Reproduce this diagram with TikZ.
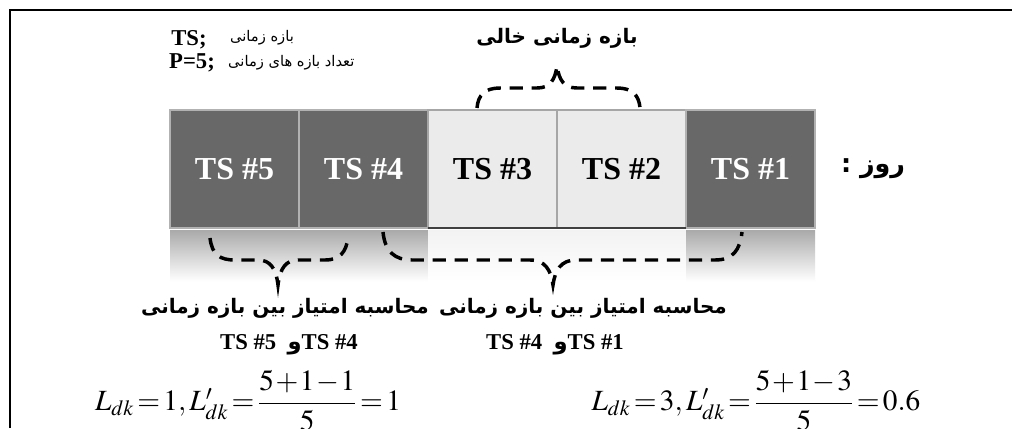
\documentclass[tikz,border=0pt]{standalone}
\usepackage{amsmath}
\usepackage{mathptmx}
\usepackage[no-math]{fontspec}
\setmainfont{Liberation Serif}
\newfontfamily\fa[Script=Arabic]{DejaVu Sans}
\TeXXeTstate=1
\usepackage{xcolor}
\usepackage{tikz}
\usetikzlibrary{positioning}

\definecolor{slotdark}{RGB}{104,104,104}
\definecolor{slotlight}{RGB}{235,235,235}
\newcommand{\tightmath}{\medmuskip=1mu\relax\thickmuskip=2mu\relax}

\begin{document}
\begin{tikzpicture}[
    x=0.75pt, y=-0.75pt,
    node distance=0pt,
    slot/.style={rectangle, draw=gray!60, line width=0.8pt, fill=slotdark, text=white, minimum width=96.75pt, minimum height=88.5pt, inner sep=0pt, outer sep=0pt, font=\fontsize{24}{28}\selectfont\bfseries},
    freeslot/.style={slot, fill=slotlight, text=black, draw=gray!70},
    dashbrace/.style={line width=2.6pt, dash pattern=on 10pt off 6.5pt},
    fatitle/.style={font=\fa\bfseries\fontsize{15}{18}\selectfont},
    fanote/.style={font=\fa\fontsize{11}{13}\selectfont},
    latnote/.style={font=\bfseries\fontsize{17}{20}\selectfont},
    pairtext/.style={font=\bfseries\fontsize{17}{20}\selectfont},
    formula/.style={font=\fontsize{22}{26}\selectfont}
]

% page and frame
\fill[white] (0,0) rectangle (1016,428);
\useasboundingbox (0,0) rectangle (1016,428);
\draw[line width=2.2pt] (10,428) -- (10,10) -- (1012,10);

% legend
\node[latnote] (tsdef) at (189,40) {TS;};
\node[fanote] (tsname) at (262,38) {\beginR بازه زمانی\endR};
\node[latnote] (pdef) at (192,63) {P=5;};
\node[fanote, right=3pt of pdef] (pname) {\beginR تعداد بازه های زمانی\endR};

% time slots of one day
\node[slot] (ts5) at (234.5,169) {TS \#5};
\node[slot, right=of ts5] (ts4) {TS \#4};
\node[freeslot, right=of ts4] (ts3) {TS \#3};
\node[freeslot, right=of ts3] (ts2) {TS \#2};
\node[slot, right=of ts2] (ts1) {TS \#1};
\node[fatitle, font=\fa\bfseries\fontsize{19}{22}\selectfont, right=16pt of ts1] (day) {\beginR روز :\endR};
\draw[line width=1.2pt, black!75] (ts3.south west) -- (ts2.south east);

% reflection
\foreach \ts/\amt in {ts5/33, ts4/33, ts3/5, ts2/5, ts1/33}
  \shade[top color=black!\amt, bottom color=white] ([yshift=-2pt]\ts.south west) rectangle ([yshift=-40pt]\ts.south east);

% empty slots
\node[fatitle] (empty) at (557,38) {\beginR بازه زمانی خالی\endR};
\draw[dashbrace] (477,108) .. controls (478,95) and (485,88) .. (500,88) -- (537,88)
  .. controls (550,88) and (555,80) .. (557,66)
  .. controls (559,80) and (564,88) .. (577,88) -- (617,88)
  .. controls (632,88) and (639,95) .. (640,108);

% score between slots
\draw[dashbrace] (210,238) .. controls (212,255) and (220,260) .. (235,260) -- (258,260)
  .. controls (270,260) and (276,268) .. (278,285)
  .. controls (280,268) and (286,260) .. (298,260) -- (325,260)
  .. controls (340,260) and (346,252) .. (348,238);
\draw[dashbrace] (383,232) .. controls (385,252) and (395,260) .. (412,260) -- (530,260)
  .. controls (545,260) and (551,270) .. (553,285)
  .. controls (555,270) and (561,260) .. (576,260) -- (715,260)
  .. controls (733,260) and (740,250) .. (742,232);

\node[fatitle] (scoreL) at (285,308) {\beginR محاسبه امتیاز بین بازه زمانی\endR};
\node[fatitle] (scoreR) at (583,308) {\beginR محاسبه امتیاز بین بازه زمانی\endR};
\node[pairtext] (pairL) at (289,345) {TS \#5\ \ {\fa و}TS \#4};
\node[pairtext] (pairR) at (555,345) {TS \#4\ \ {\fa و}TS \#1};

\node[formula] (calcL) at (248,401) {$\tightmath L_{dk} = 1, L'_{dk} = \dfrac{\tightmath 5+1-1}{5} = 1$};
\node[formula] (calcR) at (756,401) {$\tightmath L_{dk} = 3, L'_{dk} = \dfrac{\tightmath 5+1-3}{5} = 0.6$};

\end{tikzpicture}
\end{document}
